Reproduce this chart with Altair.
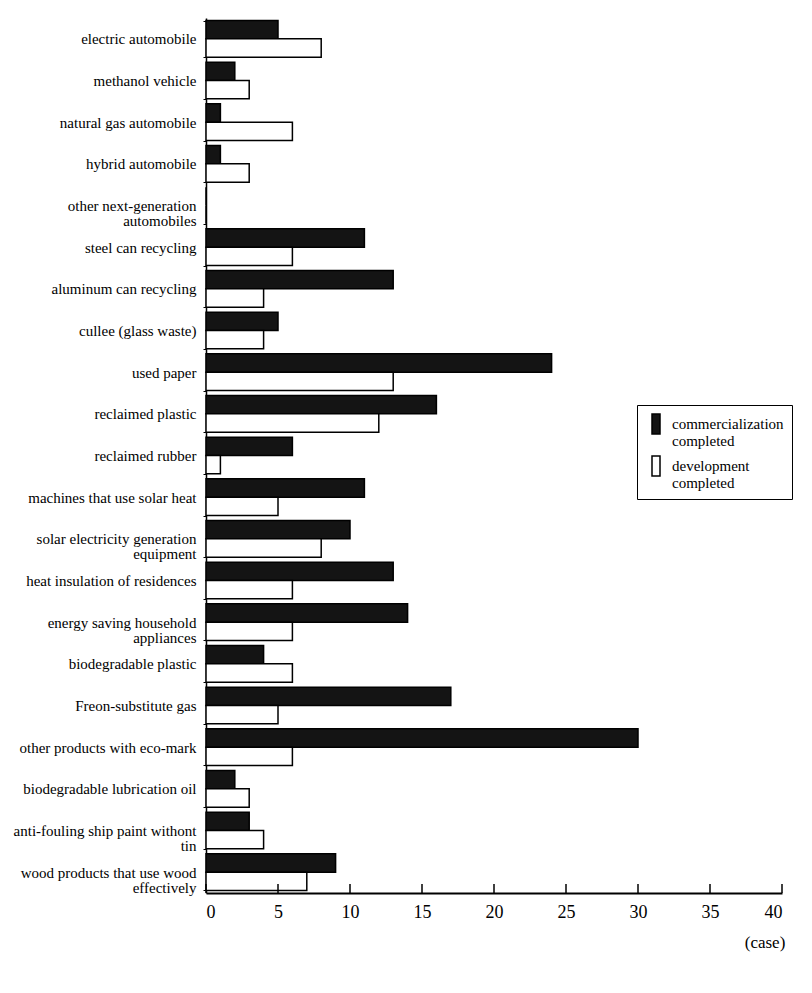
import altair as alt
import pandas as pd

categories = [
    "electric automobile",
    "methanol vehicle",
    "natural gas automobile",
    "hybrid automobile",
    "other next-generation automobiles",
    "steel can recycling",
    "aluminum can recycling",
    "cullee (glass waste)",
    "used paper",
    "reclaimed plastic",
    "reclaimed rubber",
    "machines that use solar heat",
    "solar electricity generation equipment",
    "heat insulation of residences",
    "energy saving household appliances",
    "biodegradable plastic",
    "Freon-substitute gas",
    "other products with eco-mark",
    "biodegradable lubrication oil",
    "anti-fouling ship paint withont tin",
    "wood products that use wood effectively",
]
commercialization = [5, 2, 1, 1, 0, 11, 13, 5, 24, 16, 6, 11, 10, 13, 14, 4, 17, 30, 2, 3, 9]
development = [8, 3, 6, 3, 0, 6, 4, 4, 13, 12, 1, 5, 8, 6, 6, 6, 5, 6, 3, 4, 7]
series_names = ["commercialization completed", "development completed"]
x_ticks = [0, 5, 10, 15, 20, 25, 30, 35, 40]

wrapped = {
    "other next-generation automobiles": ["other next-generation", "automobiles"],
    "solar electricity generation equipment": ["solar  electricity   generation", "equipment"],
    "energy saving household appliances": ["energy saving household", "appliances"],
    "anti-fouling ship paint withont tin": ["anti-fouling ship paint withont", "tin"],
    "wood products that use wood effectively": ["wood products that use wood", "effectively"],
}
legend_wrapped = {
    "commercialization completed": ["commercialization", "completed"],
    "development completed": ["development", "completed"],
}


def build_expr(mapping):
    expr = "datum.label"
    for k, v in mapping.items():
        arr = "[" + ",".join("'" + s + "'" for s in v) + "]"
        expr = f"datum.label == '{k}' ? {arr} : (" + expr + ")"
    return expr


rows = []
for c, a, b in zip(categories, commercialization, development):
    rows.append({"item": c, "series": series_names[0], "value": a})
    rows.append({"item": c, "series": series_names[1], "value": b})
df = pd.DataFrame(rows)

W, H = 576, 875
FONT = "Liberation Serif"

xscale = alt.Scale(domain=[0, 40], nice=False)

bars = alt.Chart(df).mark_bar(stroke="black", strokeWidth=1.5).encode(
    y=alt.Y(
        "item:N",
        sort=categories,
        scale=alt.Scale(paddingInner=0.12, paddingOuter=0.06),
        axis=alt.Axis(
            title=None,
            labelExpr=build_expr(wrapped),
            labelFont=FONT,
            labelFontSize=15,
            labelColor="black",
            labelLineHeight=15,
            domainColor="black",
            domainWidth=1.5,
            ticks=True,
            tickBand="extent",
            tickSize=3,
            tickColor="black",
            labelPadding=7,
            minExtent=198,
            maxExtent=198,
            labelLimit=0,
        ),
    ),
    yOffset=alt.YOffset("series:N", sort=series_names, scale=alt.Scale(paddingInner=0.0)),
    x=alt.X(
        "value:Q",
        scale=xscale,
        axis=alt.Axis(
            values=x_ticks,
            title=None,
            grid=False,
            ticks=False,
            domainColor="black",
            domainWidth=2,
            labelFont=FONT,
            labelFontSize=18,
            labelPadding=10,
            labelColor="black",
        ),
    ),
    fill=alt.Fill(
        "series:N",
        scale=alt.Scale(domain=series_names, range=["#141414", "#ffffff"]),
        legend=alt.Legend(
            title=None,
            orient="none",
            legendX=431,
            legendY=387,
            strokeColor="black",
            padding=8,
            labelFont=FONT,
            labelFontSize=15,
            labelColor="black",
            symbolType="M-0.4,-1L0.4,-1L0.4,1L-0.4,1Z",
            symbolSize=400,
            symbolStrokeColor="black",
            symbolStrokeWidth=1.5,
            rowPadding=4,
            labelOffset=5,
            labelLimit=0,
            labelExpr=build_expr(legend_wrapped),
        ),
    ),
)

tick_df = pd.DataFrame({"v": x_ticks})
ticks = alt.Chart(tick_df).mark_rule(color="black", strokeWidth=1.5).encode(
    x=alt.X("v:Q", scale=xscale),
    y=alt.value(H),
    y2=alt.value(H - 9),
)

unit = alt.Chart(pd.DataFrame({"t": ["(case)"]})).mark_text(
    font=FONT, fontSize=17, color="black", align="center", baseline="middle"
).encode(text="t:N", x=alt.value(559), y=alt.value(925))

chart = (
    alt.layer(bars, ticks, unit)
    .properties(width=W, height=H, padding={"left": 0, "top": 3, "right": 0, "bottom": 5})
    .configure(background="white", view={"stroke": None})
)

chart.save("out.html", embed_options={"renderer": "svg", "actions": False})
